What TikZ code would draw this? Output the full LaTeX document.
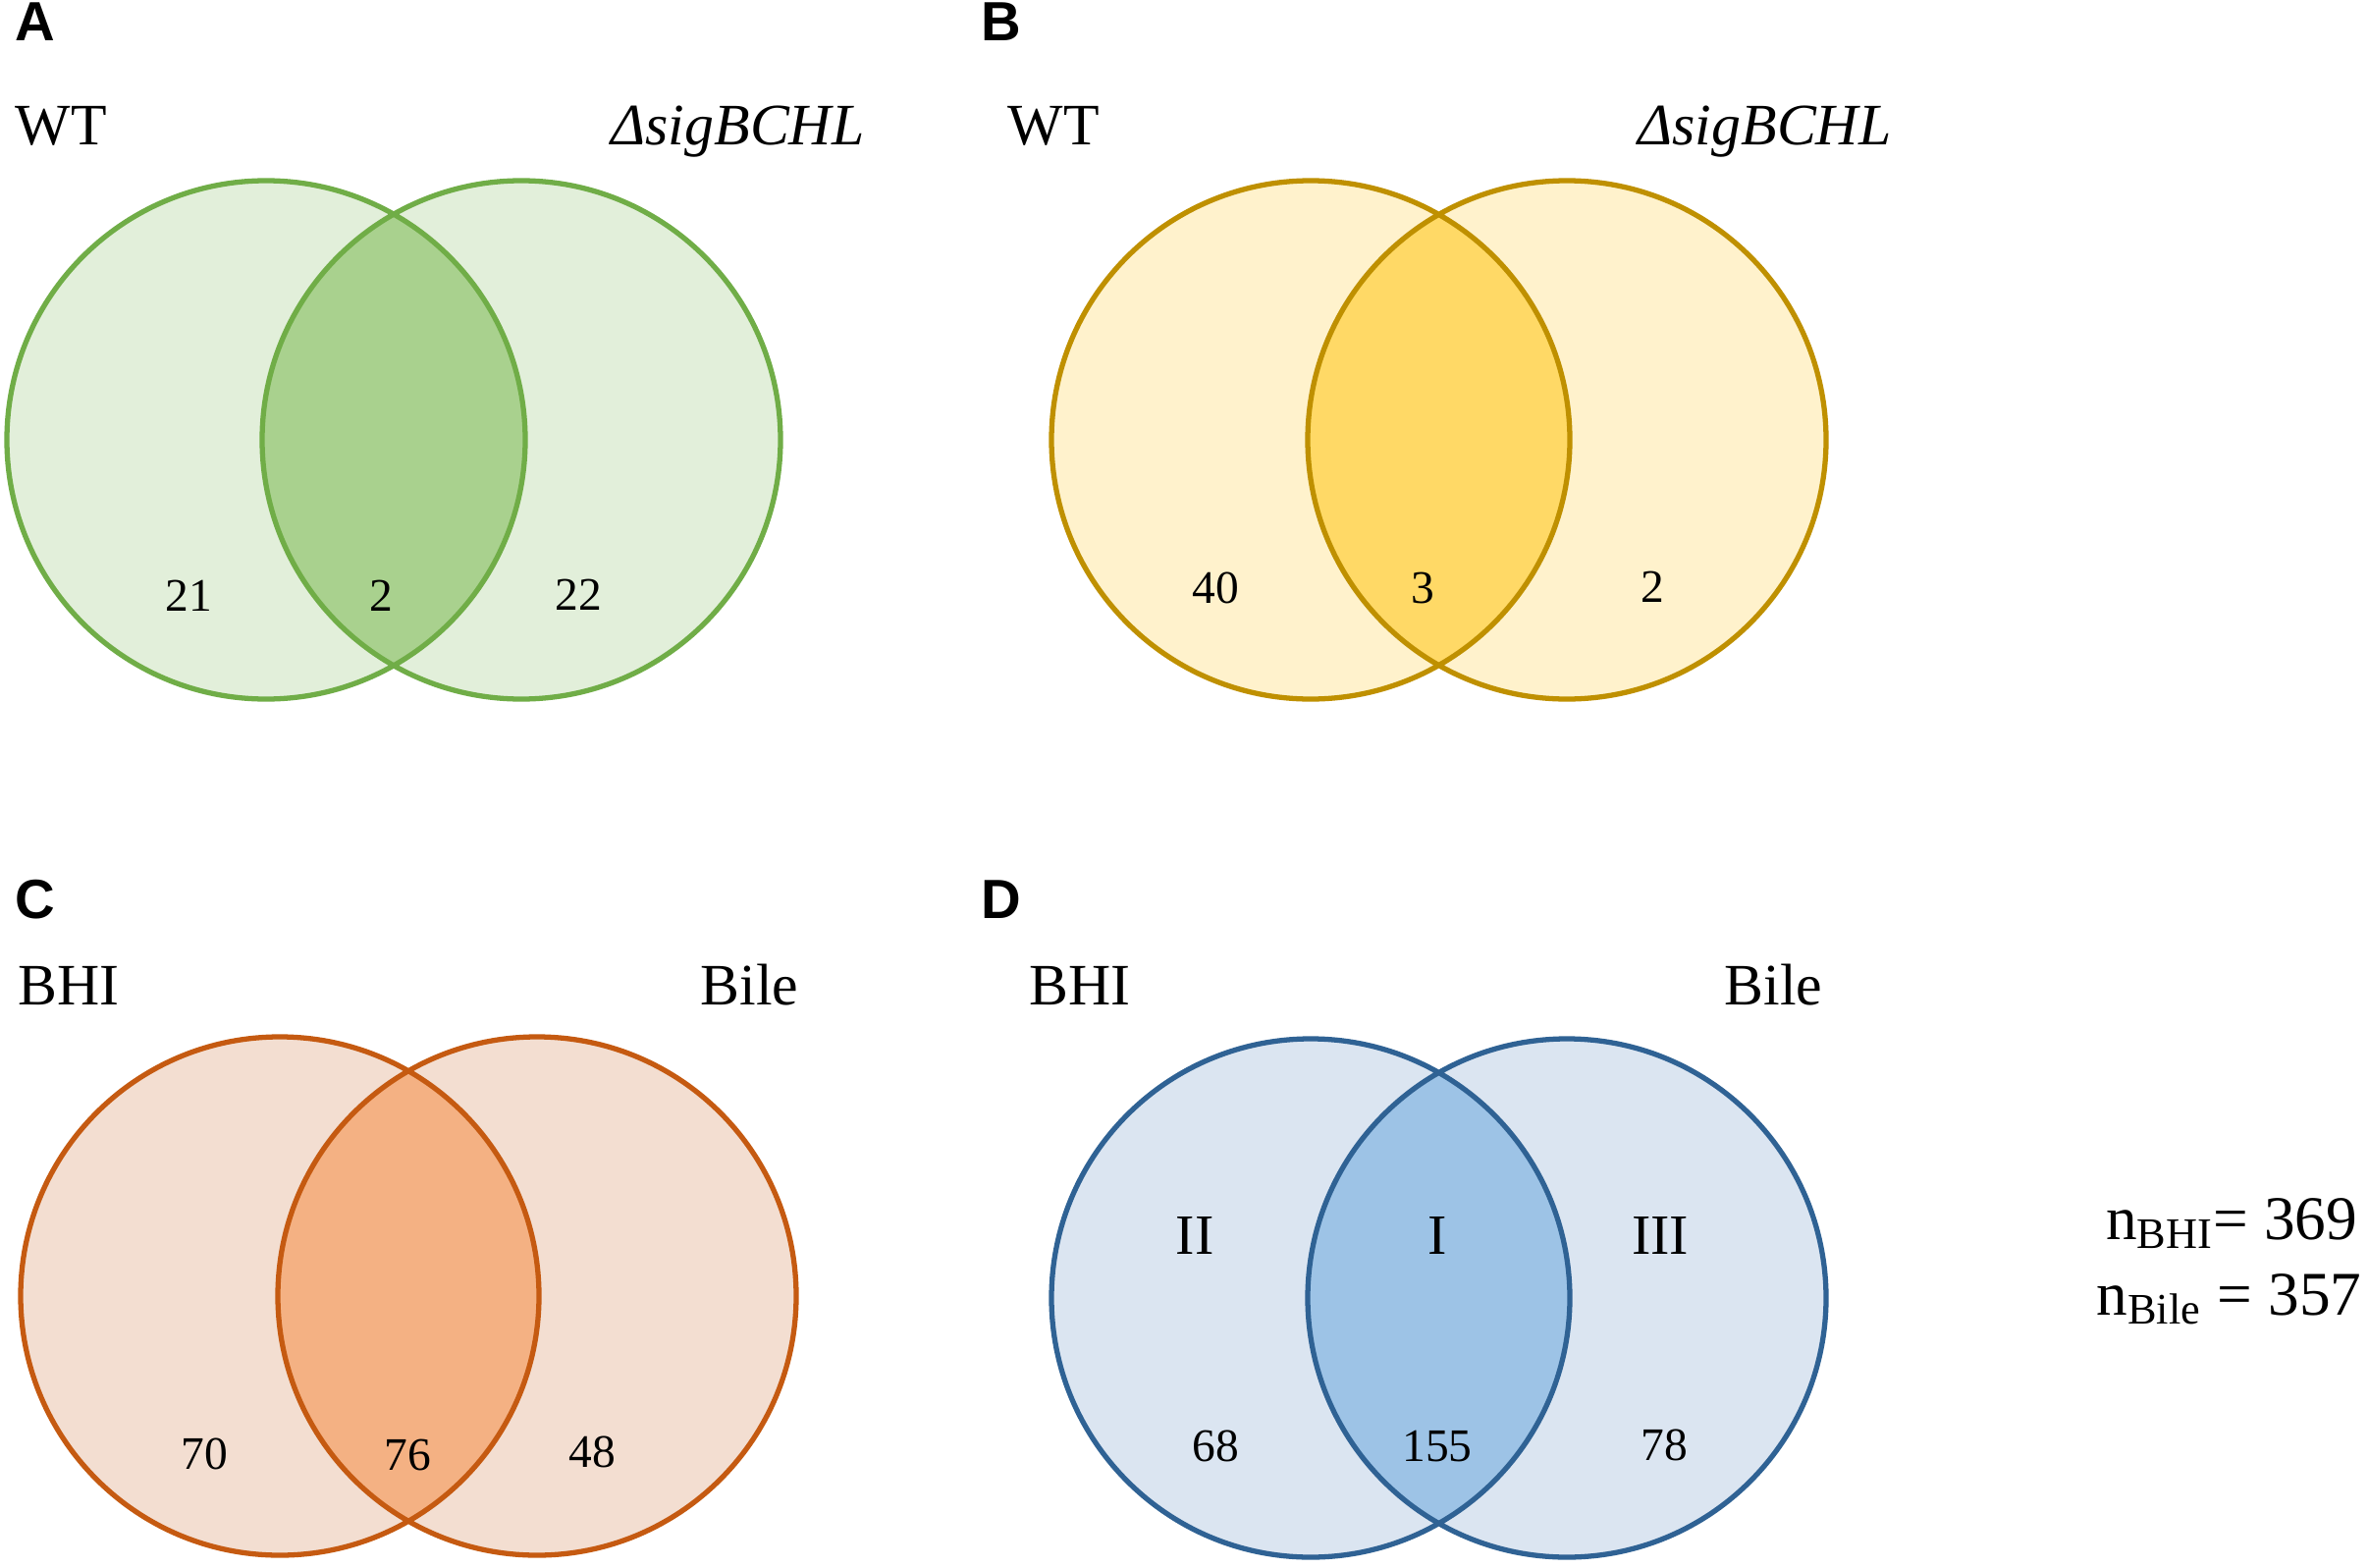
\documentclass[tikz,border=0pt]{standalone}
\usepackage{fontspec}
\setmainfont{Liberation Serif}
\newfontfamily\panelfont{Liberation Sans}
\usepackage{tikz}
\definecolor{vgreen}{RGB}{112,173,71}
\definecolor{vgreenlight}{RGB}{226,239,218}
\definecolor{vgreenmid}{RGB}{169,209,142}
\definecolor{vgold}{RGB}{191,144,0}
\definecolor{vgoldlight}{RGB}{255,242,204}
\definecolor{vgoldmid}{RGB}{255,217,102}
\definecolor{vorange}{RGB}{197,90,17}
\definecolor{vorangelight}{RGB}{243,222,209}
\definecolor{vorangemid}{RGB}{244,177,131}
\definecolor{vblue}{RGB}{47,98,148}
\definecolor{vbluelight}{RGB}{219,229,241}
\definecolor{vbluemid}{RGB}{157,195,230}

\begin{document}
\begin{tikzpicture}[x=0.01cm,y=-0.01cm, every node/.append style={inner sep=0pt},
  venn/.style={line width=1.5pt},
  count/.style={font=\fontsize{13.5}{16}\selectfont, anchor=base},
  region/.style={font=\fontsize{16.5}{19}\selectfont, anchor=base},
  head/.style={font=\fontsize{17}{20}\selectfont},
  total/.style={font=\fontsize{18}{22}\selectfont, anchor=base east},
  panel/.style={font=\panelfont\bfseries\fontsize{16}{19}\selectfont, anchor=base west}]
  \useasboundingbox (0,0) rectangle (2412,1597);
  % Panel A
  \coordinate (a-wt) at (271,448);
  \coordinate (a-mut) at (531,448);
  \fill[vgreenlight] (a-wt) circle (264) (a-mut) circle (264);
  \begin{scope}
    \clip (a-wt) circle (264);
    \fill[vgreenmid] (a-mut) circle (264);
  \end{scope}
  \draw[venn, vgreen] (a-wt) circle (264) (a-mut) circle (264);
  \node[panel] (lab-a) at (15,42) {A};
  \node[head, anchor=base west] (a-wt-name) at (15,148) {WT};
  \node[head, anchor=base east] (a-mut-name) at (881,148) {\itshape ΔsigBCHL};
  \node[count] (a-only-wt) at (192,622) {21};
  \node[count] (a-both) at (388,622) {2};
  \node[count] (a-only-mut) at (589,621) {22};
  % Panel B
  \coordinate (b-wt) at (1335,448);
  \coordinate (b-mut) at (1596,448);
  \fill[vgoldlight] (b-wt) circle (264) (b-mut) circle (264);
  \begin{scope}
    \clip (b-wt) circle (264);
    \fill[vgoldmid] (b-mut) circle (264);
  \end{scope}
  \draw[venn, vgold] (b-wt) circle (264) (b-mut) circle (264);
  \node[panel] (lab-b) at (999,42) {B};
  \node[head, anchor=base west] (b-wt-name) at (1026,148) {WT};
  \node[head, anchor=base east] (b-mut-name) at (1927,148) {\itshape ΔsigBCHL};
  \node[count] (b-only-wt) at (1238,614) {40};
  \node[count] (b-both) at (1449,614) {3};
  \node[count] (b-only-mut) at (1683,613) {2};
  % Panel C
  \coordinate (c-bhi) at (285,1320);
  \coordinate (c-bile) at (547,1320);
  \fill[vorangelight] (c-bhi) circle (264) (c-bile) circle (264);
  \begin{scope}
    \clip (c-bhi) circle (264);
    \fill[vorangemid] (c-bile) circle (264);
  \end{scope}
  \draw[venn, vorange] (c-bhi) circle (264) (c-bile) circle (264);
  \node[panel] (lab-c) at (15,935) {C};
  \node[head, anchor=base west] (c-bhi-name) at (18,1023) {BHI};
  \node[head, anchor=base east] (c-bile-name) at (814,1023) {Bile};
  \node[count] (c-only-bhi) at (208,1496) {70};
  \node[count] (c-both) at (415,1497) {76};
  \node[count] (c-only-bile) at (603,1494) {48};
  % Panel D
  \coordinate (d-bhi) at (1335,1322);
  \coordinate (d-bile) at (1596,1322);
  \fill[vbluelight] (d-bhi) circle (264) (d-bile) circle (264);
  \begin{scope}
    \clip (d-bhi) circle (264);
    \fill[vbluemid] (d-bile) circle (264);
  \end{scope}
  \draw[venn, vblue] (d-bhi) circle (264) (d-bile) circle (264);
  \node[panel] (lab-d) at (999,935) {D};
  \node[head, anchor=base west] (d-bhi-name) at (1048,1023) {BHI};
  \node[head, anchor=base east] (d-bile-name) at (1857,1023) {Bile};
  \node[region] (d-reg-ii) at (1217,1277) {II};
  \node[region] (d-reg-i) at (1464,1277) {I};
  \node[region] (d-reg-iii) at (1691,1277) {III};
  \node[count] (d-only-bhi) at (1238,1488) {68};
  \node[count] (d-both) at (1464,1488) {155};
  \node[count] (d-only-bile) at (1695,1487) {78};
  % Totals
  \node[total] (n-bhi) at (2402,1262) {n\textsubscript{BHI}= 369};
  \node[total] (n-bile) at (2406,1339) {n\textsubscript{Bile} = 357};
\end{tikzpicture}
\end{document}
